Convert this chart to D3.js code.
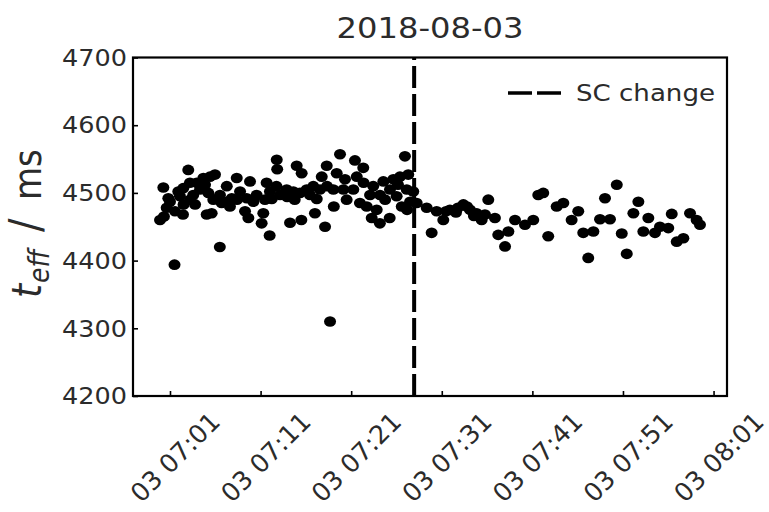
<!DOCTYPE html>
<html>
<head>
<meta charset="utf-8">
<script src="https://cdn.jsdelivr.net/npm/d3@7"></script>
<style>
  html, body { margin: 0; padding: 0; background: #fff; }
  svg { display: block; }
  text { font-family: "DejaVu Sans", sans-serif; }
</style>
</head>
<body>
<svg id="chart" width="769" height="512"></svg>
<script>
// Effective time t_eff, sampled on 2018-08-03 before and after the SC change
const day = "2018-08-03";
const titleText = "2018-08-03";
const changeTime = "07:27:57";
const legendLabel = "SC change";

const timesBefore = [
  "06:59:54","07:00:16","07:00:20","07:00:38","07:00:49","07:01:00","07:01:30","07:01:33",
  "07:01:55","07:02:06","07:02:26","07:02:28","07:02:30","07:03:01","07:03:12","07:03:14",
  "07:03:34","07:03:46","07:03:57","07:04:19","07:04:41","07:04:52","07:05:03","07:05:14",
  "07:05:25","07:05:36","07:05:47","07:05:58","07:06:30","07:06:31","07:06:42","07:07:16",
  "07:07:18","07:07:37","07:07:49","07:08:22","07:08:24","07:08:44","07:09:17","07:09:28",
  "07:09:39","07:09:50","07:10:12","07:10:34","07:11:07","07:11:18","07:11:29","07:11:40",
  "07:12:00","07:12:02","07:12:14","07:12:45","07:12:47","07:12:50","07:13:09","07:13:53",
  "07:13:56","07:14:15","07:14:37","07:14:46","07:14:59","07:15:21","07:15:30","07:15:32",
  "07:16:05","07:16:27","07:16:49","07:17:00","07:17:12","07:17:33","07:17:45","07:18:07",
  "07:18:18","07:18:20","07:18:40","07:19:02","07:19:05","07:19:24","07:19:46","07:20:08",
  "07:20:19","07:20:30","07:21:14","07:21:25","07:21:37","07:21:58","07:22:20","07:22:22",
  "07:22:43","07:23:05","07:23:16","07:23:26","07:23:49","07:24:10","07:24:11","07:24:33",
  "07:24:45","07:25:15","07:25:17","07:25:39","07:26:01","07:26:10","07:26:23","07:26:35",
  "07:26:56","07:27:08","07:27:10","07:27:18","07:27:30","07:27:51"
];
const teffBefore = [
  4460,4508,4465,4478,4492,4487,4394,4473,
  4502,4495,4468,4507,4483,4534,4515,4490,
  4497,4483,4515,4505,4522,4512,4468,4500,
  4524,4470,4490,4527,4420,4497,4485,4510,
  4487,4480,4492,4522,4490,4502,4473,4492,
  4463,4517,4487,4497,4455,4470,4490,4515,
  4437,4502,4491,4510,4549,4535,4497,4505,
  4494,4456,4502,4490,4540,4500,4460,4529,
  4505,4497,4510,4470,4491,4505,4524,4450,
  4540,4510,4310,4505,4480,4529,4557,4505,
  4520,4490,4505,4548,4524,4485,4537,4515,
  4480,4497,4463,4510,4475,4455,4497,4517,
  4490,4463,4505,4520,4495,4512,4524,4480,
  4554,4505,4475,4527,4487,4502
];

const timesAfter = [
  "07:28:14","07:29:20","07:29:53","07:30:26","07:31:10","07:31:28","07:31:54","07:32:34",
  "07:32:47","07:33:23","07:33:47","07:34:07","07:34:33","07:34:51","07:35:24","07:35:46",
  "07:36:08","07:36:52","07:37:14","07:37:59","07:38:21","07:39:05","07:40:11","07:41:06",
  "07:41:39","07:42:12","07:42:45","07:43:41","07:44:25","07:45:20","07:46:04","07:46:37",
  "07:47:10","07:47:44","07:48:28","07:49:01","07:49:34","07:50:19","07:50:52","07:51:25",
  "07:52:09","07:52:42","07:53:15","07:53:48","07:54:32","07:55:05","07:56:00","07:56:23",
  "07:56:56","07:57:40","07:58:24","07:59:08","07:59:30"
];
const teffAfter = [
  4485,4478,4441,4473,4460,4473,4475,4471,
  4478,4483,4480,4475,4466,4470,4460,4468,
  4490,4463,4438,4421,4443,4460,4453,4460,
  4497,4500,4436,4480,4485,4460,4473,4441,
  4404,4443,4461,4492,4461,4512,4440,4410,
  4470,4487,4443,4463,4441,4450,4448,4469,
  4428,4433,4470,4460,4453
];

const xTickTimes = ["07:01","07:11","07:21","07:31","07:41","07:51","08:01"];
const yTicks = [4200, 4300, 4400, 4500, 4600, 4700];
const xDomainTimes = ["06:56:55", "08:02:29"];
const yDomain = [4200, 4700];

// ---- layout ----
const svg = d3.select("#chart");
const margin = { left: 133, right: 42, top: 57.5, bottom: 116 };
const W = 769, H = 512;
const sx = 1.11;          // horizontal stretch applied to glyphs
const ink = "#2b2b2b";

const parseFull = d3.timeParse("%Y-%m-%d %H:%M:%S");
const parseHM = d3.timeParse("%Y-%m-%d %H:%M");
const toDate = s => parseFull(`${day} ${s}`);

const x = d3.scaleTime()
  .domain(xDomainTimes.map(toDate))
  .range([margin.left, W - margin.right]);
const y = d3.scaleLinear()
  .domain(yDomain)
  .range([H - margin.bottom, margin.top]);

const points = timesBefore.map((t, i) => ({ t: toDate(t), v: teffBefore[i] }))
  .concat(timesAfter.map((t, i) => ({ t: toDate(t), v: teffAfter[i] })));

// ---- scatter ----
svg.append("g")
  .selectAll("ellipse")
  .data(points)
  .join("ellipse")
  .attr("cx", d => x(d.t))
  .attr("cy", d => y(d.v))
  .attr("rx", 6)
  .attr("ry", 5.3)
  .attr("fill", "#000");

// ---- SC change marker line ----
const xc = x(toDate(changeTime));
svg.append("line")
  .attr("x1", xc).attr("x2", xc)
  .attr("y1", y(yDomain[0])).attr("y2", y(yDomain[1]))
  .attr("stroke", "#000")
  .attr("stroke-width", 4)
  .attr("stroke-dasharray", "22,6");

// ---- axes (inward ticks) ----
const xTickDates = xTickTimes.map(s => parseHM(`${day} ${s}`));
const xAxis = d3.axisBottom(x)
  .tickValues(xTickDates)
  .tickSize(-5)
  .tickFormat("");
const gx = svg.append("g")
  .attr("transform", `translate(0,${y(yDomain[0])})`)
  .call(xAxis);
gx.select(".domain").remove();
gx.selectAll(".tick line").attr("stroke", "#000").attr("stroke-width", 1.6);

const yAxis = d3.axisLeft(y)
  .tickValues(yTicks)
  .tickSize(-5)
  .tickFormat("");
const gy = svg.append("g")
  .attr("transform", `translate(${x.range()[0]},0)`)
  .call(yAxis);
gy.select(".domain").remove();
gy.selectAll(".tick line").attr("stroke", "#000").attr("stroke-width", 1.6);

// frame
svg.append("rect")
  .attr("x", x.range()[0]).attr("y", y.range()[1])
  .attr("width", x.range()[1] - x.range()[0])
  .attr("height", y.range()[0] - y.range()[1])
  .attr("fill", "none")
  .attr("stroke", "#000")
  .attr("stroke-width", 2.2);

// y tick labels
svg.append("g")
  .selectAll("text")
  .data(yTicks)
  .join("text")
  .attr("transform", d => `translate(${x.range()[0] - 6},${y(d)}) scale(${sx},1)`)
  .attr("text-anchor", "end")
  .attr("dy", "0.36em")
  .attr("font-size", 23)
  .attr("fill", ink)
  .text(d => d);

// x tick labels, rotated 45 degrees and centred on their ticks
const fmtX = d3.timeFormat("%d %H:%M");
svg.append("g")
  .selectAll("text")
  .data(xTickDates)
  .join("text")
  .attr("transform", d => `translate(${x(d) + 5},${457}) rotate(-45)`)
  .attr("text-anchor", "middle")
  .attr("dy", "0.36em")
  .attr("font-size", 25.5)
  .attr("fill", ink)
  .text(d => fmtX(d));

// title
svg.append("text")
  .attr("transform", `translate(${(x.range()[0] + x.range()[1]) / 2},38) scale(${sx},1)`)
  .attr("text-anchor", "middle")
  .attr("font-size", 29)
  .attr("fill", ink)
  .text(titleText);

// y axis label: t_eff / ms
const yl = svg.append("text")
  .attr("transform", `translate(41,298) scale(${sx},1) rotate(-90)`)
  .attr("text-anchor", "start")
  .attr("font-size", 36)
  .attr("fill", ink);
yl.append("tspan").attr("font-style", "italic").attr("x", 0).text("t");
yl.append("tspan").attr("font-style", "italic").attr("font-size", 25)
  .attr("x", 15).attr("dy", 7).text("eff");
yl.append("tspan").attr("font-size", 40).attr("x", 66).attr("dy", -7).text("/");
yl.append("tspan").attr("font-size", 34).attr("x", 98).text("ms");

// legend
const lg = svg.append("g");
lg.append("line")
  .attr("x1", 508).attr("x2", 561)
  .attr("y1", 93).attr("y2", 93)
  .attr("stroke", "#000")
  .attr("stroke-width", 3.6)
  .attr("stroke-dasharray", "24,5");
lg.append("text")
  .attr("transform", `translate(576,101) scale(${sx},1)`)
  .attr("font-size", 23.5)
  .attr("fill", ink)
  .text(legendLabel);
</script>
</body>
</html>
